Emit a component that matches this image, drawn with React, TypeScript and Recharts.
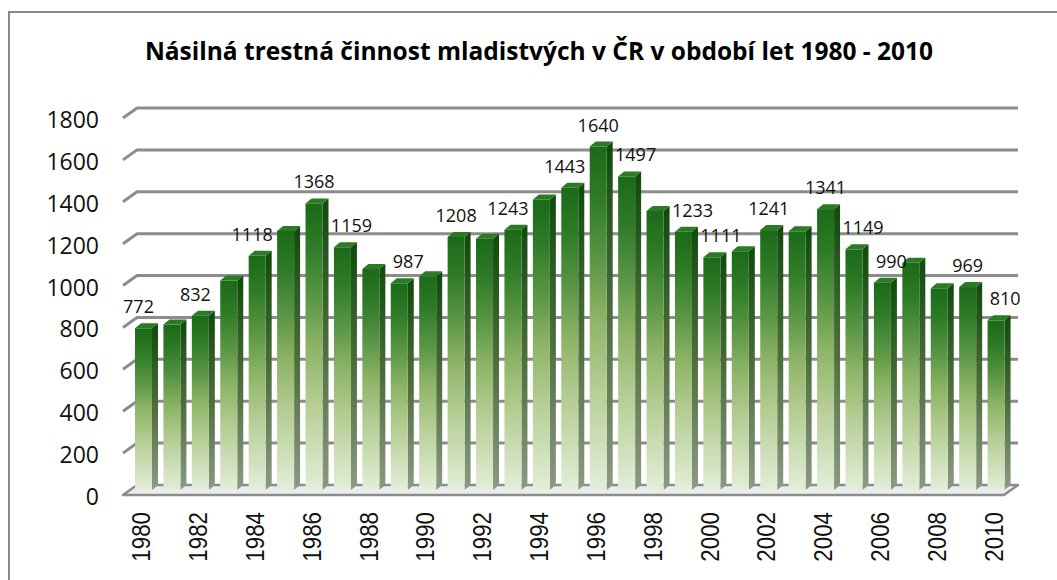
import React from 'react';
import { BarChart, Bar, XAxis, YAxis, CartesianGrid, LabelList } from 'recharts';

const years = [
  '1980', '1981', '1982', '1983', '1984', '1985', '1986', '1987', '1988', '1989',
  '1990', '1991', '1992', '1993', '1994', '1995', '1996', '1997', '1998', '1999',
  '2000', '2001', '2002', '2003', '2004', '2005', '2006', '2007', '2008', '2009', '2010',
];
const counts = [
  772, 790, 832, 1000, 1118, 1237, 1368, 1159, 1055, 987,
  1020, 1208, 1200, 1243, 1387, 1443, 1640, 1497, 1332, 1233,
  1111, 1140, 1241, 1235, 1341, 1149, 990, 1085, 963, 969, 810,
];
const labeledYears = [
  '1980', '1982', '1984', '1986', '1987', '1989', '1991', '1993', '1995', '1996',
  '1997', '1999', '2000', '2002', '2004', '2005', '2006', '2009', '2010',
];
const yTicks = [0, 200, 400, 600, 800, 1000, 1200, 1400, 1600, 1800];

const TITLE = 'Násilná trestná činnost mladistvých v ČR v období let 1980 - 2010';

const data = years.map((year, i) => ({
  year,
  count: counts[i],
  label: labeledYears.includes(year) ? counts[i] : null,
}));

const W = 1057;
const H = 580;
const PLOT_BOTTOM = 490;
const DEPTH_X = 6;
const DEPTH_Y = 5;
const GRID_COLOR = '#8c8c8c';

function Bar3D(props: any) {
  const { x, y, width, height } = props;
  if (!height || height <= 0) return null;
  return (
    <g>
      <polygon
        points={`${x + width},${y} ${x + width + DEPTH_X},${y - DEPTH_Y} ${x + width + DEPTH_X},${y + height - DEPTH_Y} ${x + width},${y + height}`}
        fill="url(#sideGrad)"
      />
      <polygon
        points={`${x},${y} ${x + DEPTH_X},${y - DEPTH_Y} ${x + width + DEPTH_X},${y - DEPTH_Y} ${x + width},${y}`}
        fill="#2c7a23"
      />
      <rect x={x} y={y} width={width} height={height} fill="url(#frontGrad)" />
    </g>
  );
}

function GridLine(props: any) {
  const { x1, x2, y1 } = props;
  const yb = y1 - 5;
  const yf = y1 + 5;
  const isFloor = Math.abs(y1 - PLOT_BOTTOM) < 1;
  if (isFloor) {
    return (
      <g key={props.key}>
        <polygon
          points={`${x1 - 6},${yf} ${x1 + 8},${yb} ${x2 + 8},${yb} ${x2 - 6},${yf}`}
          fill="#ececec"
          stroke={GRID_COLOR}
          strokeWidth={2.5}
          strokeLinejoin="round"
        />
      </g>
    );
  }
  return (
    <polyline
      key={props.key}
      points={`${x1 - 6},${yf} ${x1 + 8},${yb} ${x2 + 8},${yb}`}
      fill="none"
      stroke={GRID_COLOR}
      strokeWidth={3}
    />
  );
}

function YTick(props: any) {
  const { y, payload } = props;
  return (
    <text x={99} y={y + 6} textAnchor="end" dominantBaseline="central" fontSize={23} fill="#111" fontFamily="Open Sans">
      {payload.value}
    </text>
  );
}

function XTick(props: any) {
  const { x, payload } = props;
  return (
    <text
      transform={`translate(${x + 7},512) rotate(-90) scale(0.86,1)`}
      textAnchor="end"
      fontSize={26}
      fill="#111"
      fontFamily="Liberation Sans"
    >
      {payload.value}
    </text>
  );
}

function ValueLabel(props: any) {
  const { x, y, width, value, index } = props;
  if (value == null) return null;
  const prev = index > 0 ? counts[index - 1] : -1;
  const next = index < counts.length - 1 ? counts[index + 1] : -1;
  let dx = 0;
  if (prev > counts[index]) dx = 9;
  else if (next > counts[index]) dx = -5;
  return (
    <text x={x + width / 2 + dx} y={y - 15} textAnchor="middle" fontSize={18} fill="#111" fontFamily="Open Sans">
      {value}
    </text>
  );
}

export default function App() {
  return (
    <div style={{ position: 'absolute', left: 0, top: 0, width: W, height: H, background: '#fff' }}>
      <div
        style={{
          position: 'absolute',
          left: 8,
          top: 11,
          width: W - 8,
          height: H - 11,
          borderLeft: '2px solid #8a8a8a',
          borderTop: '2px solid #8a8a8a',
        }}
      />
      <svg style={{ position: 'absolute', left: 0, top: 0 }} width={W} height={80}>
        <text x={539} y={60} textAnchor="middle" fontSize={24.5} fontWeight="bold" fill="#000" fontFamily="Open Sans">
          {TITLE}
        </text>
      </svg>
      <div style={{ position: 'absolute', left: 0, top: 0 }}>
        <BarChart width={W} height={H} data={data} margin={{ top: 113, right: 47, left: 0, bottom: 0 }} barCategoryGap={0}>
          <defs>
            <linearGradient id="frontGrad" x1="0" y1="0" x2="0" y2="1">
              <stop offset="0" stopColor="#1b6a17" />
              <stop offset="0.15" stopColor="#2e7b27" />
              <stop offset="0.33" stopColor="#5a9645" />
              <stop offset="0.5" stopColor="#8db466" />
              <stop offset="0.7" stopColor="#b5cd94" />
              <stop offset="1" stopColor="#e3eed9" />
            </linearGradient>
            <linearGradient id="sideGrad" x1="0" y1="0" x2="0" y2="1">
              <stop offset="0" stopColor="#0f4a0c" />
              <stop offset="0.5" stopColor="#4d6d3c" />
              <stop offset="1" stopColor="#8c9a84" />
            </linearGradient>
          </defs>
          <CartesianGrid vertical={false} horizontal={GridLine} />
          <XAxis
            dataKey="year"
            height={90}
            interval={1}
            axisLine={false}
            tickLine={false}
            tick={XTick}
          />
          <YAxis
            width={129}
            domain={[0, 1800]}
            ticks={yTicks}
            axisLine={false}
            tickLine={false}
            tick={YTick}
          />
          <Bar dataKey="count" barSize={17} shape={Bar3D} isAnimationActive={false}>
            <LabelList dataKey="label" content={ValueLabel} />
          </Bar>
        </BarChart>
      </div>
    </div>
  );
}
